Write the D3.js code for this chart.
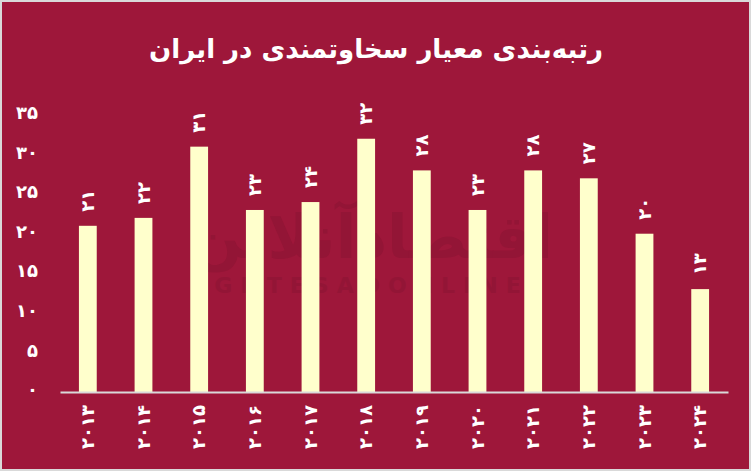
<!DOCTYPE html>
<html><head><meta charset="utf-8">
<script src="https://cdn.jsdelivr.net/npm/d3@7"></script>
<style>html,body{margin:0;padding:0;background:#d9d9d9;}svg{display:block;}</style>
</head><body>
<svg id="c" width="751" height="471"></svg>
<script>
const title = "رتبه‌بندی معیار سخاوتمندی در ایران";
const years = [2013,2014,2015,2016,2017,2018,2019,2020,2021,2022,2023,2024];
const values = [21,22,31,23,24,32,28,23,28,27,20,13];
const yTicks = [0,5,10,15,20,25,30,35];

const fa = n => String(n).replace(/[0-9]/g, d => "۰۱۲۳۴۵۶۷۸۹"[+d]);
const font = "'DejaVu Sans', sans-serif";
const svg = d3.select("#c");
svg.append("rect").attr("x",0).attr("y",0).attr("width",751).attr("height",471).attr("fill","#d9d9d9");
svg.append("rect").attr("x",2).attr("y",2).attr("width",747).attr("height",467).attr("fill","#9e173a");

// watermark
svg.append("text").attr("x",372).attr("y",258).attr("text-anchor","middle")
  .attr("font-family",font).attr("font-weight","bold").attr("font-size",60)
  .attr("fill","#931536").text("اقتصادآنلاین");
svg.append("text").attr("x",360).attr("y",293).attr("text-anchor","middle")
  .attr("font-family",font).attr("font-weight","bold").attr("font-size",22)
  .attr("letter-spacing",8).attr("fill","#931536").text("EGHTESADONLINE");

svg.append("text").attr("x",376).attr("y",58).attr("text-anchor","middle")
  .attr("font-family",font).attr("font-size",26).attr("font-weight","bold").attr("fill","#ffffff").text(title);

const x = d3.scaleBand().domain(years).range([60,728]).paddingInner(0.68).paddingOuter(0.34);
const y = d3.scaleLinear().domain([0,35]).range([392,115]);

// y axis labels
const ya = svg.append("g").attr("transform","translate(38,0)")
  .call(d3.axisLeft(y).tickValues(yTicks).tickSize(0).tickPadding(0).tickFormat(fa));
ya.select(".domain").remove();
ya.selectAll("text").attr("font-family",font).attr("font-size",18).attr("font-weight","bold")
  .attr("fill","#ffffff").attr("dy","0.2em");

// bars
svg.append("g").selectAll("rect").data(values).join("rect")
  .attr("x",(d,i)=>x(years[i])).attr("width",x.bandwidth())
  .attr("y",d=>y(d)).attr("height",d=>y(0)-y(d)).attr("fill","#ffffcc");

// x axis
const xa = svg.append("g").attr("transform","translate(0,392)")
  .call(d3.axisBottom(x).tickSize(0).tickPadding(0).tickFormat(fa));
xa.select(".domain").attr("stroke","#d9d9d9").attr("stroke-width",2);
xa.selectAll("text").attr("font-family",font).attr("font-size",18).attr("font-weight","bold")
  .attr("fill","#ffffff").attr("text-anchor","end").attr("dy","0.35em")
  .attr("transform","translate(0,13) rotate(-90)").attr("y",0).attr("x",0);

// value labels
svg.append("g").selectAll("text").data(values).join("text")
  .attr("transform",(d,i)=>`translate(${x(years[i])+x.bandwidth()/2},${y(d)-14}) rotate(-90)`)
  .attr("dy","0.35em").attr("text-anchor","start")
  .attr("font-family",font).attr("font-size",18).attr("font-weight","bold")
  .attr("fill","#ffffff").text(fa);
</script>
</body></html>
